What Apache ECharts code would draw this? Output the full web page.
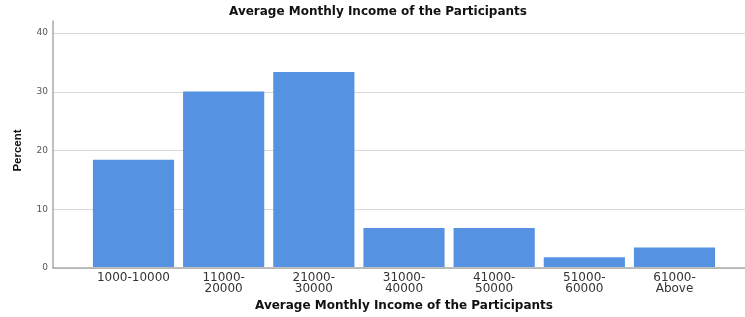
<!DOCTYPE html>
<html>
<head>
<meta charset="utf-8">
<script src="https://cdn.jsdelivr.net/npm/echarts@6/dist/echarts.min.js"></script>
<style>html,body{margin:0;padding:0;background:#fff;}#c{width:745px;height:317px;}</style>
</head>
<body>
<div id="c"></div>
<script>
var categories = ['1000-10000', '11000-\n20000', '21000-\n30000', '31000-\n40000', '41000-\n50000', '51000-\n60000', '61000-\nAbove'];
var percents = [18.33, 30.0, 33.33, 6.67, 6.67, 1.67, 3.33];
var yTicks = [0, 10, 20, 30, 40];
var titleText = 'Average Monthly Income of the Participants';
var xTitle = 'Average Monthly Income of the Participants';
var yTitle = 'Percent';

var chart = echarts.init(document.getElementById('c'), null, {renderer: 'canvas'});
var yMax = yTicks[yTicks.length - 1];
var yStep = yTicks[1] - yTicks[0];
chart.setOption({
  animation: false,
  backgroundColor: '#ffffff',
  title: {
    text: titleText, left: 373, top: 1, textAlign: 'center',
    textStyle: {fontFamily: 'DejaVu Sans', fontWeight: 'bold', fontSize: 12, color: '#111'}
  },
  grid: [
    {left: 53, right: 0, top: 33, bottom: 49},
    {left: 88.4, right: 25.4, top: 33, bottom: 49},
    {left: 53, width: 1, top: 21, bottom: 49}
  ],
  xAxis: [
    {gridIndex: 0, type: 'value', min: 0, max: 1,
     axisLine: {show: true, lineStyle: {color: '#aaaaaa', width: 1.5}},
     axisTick: {show: false}, axisLabel: {show: false}, splitLine: {show: false}},
    {gridIndex: 1, type: 'category', data: categories,
     axisLine: {show: false}, axisTick: {show: false},
     axisLabel: {margin: 5, fontFamily: 'DejaVu Sans', fontSize: 12, lineHeight: 11, color: '#333', interval: 0},
     name: xTitle, nameLocation: 'middle', nameGap: 33,
     nameTextStyle: {fontFamily: 'DejaVu Sans', fontWeight: 'bold', fontSize: 12, color: '#111'}},
    {gridIndex: 2, type: 'value', show: false, min: 0, max: 1}
  ],
  yAxis: [
    {gridIndex: 0, type: 'value', min: 0, max: yMax, interval: yStep,
     axisLine: {show: false}, axisTick: {show: false},
     axisLabel: {margin: 5, fontFamily: 'DejaVu Sans', fontSize: 9, color: '#555'},
     splitLine: {show: true, lineStyle: {color: '#d8d8d8', width: 1.2}},
     name: yTitle, nameLocation: 'middle', nameGap: 29, nameRotate: 90,
     nameTextStyle: {fontFamily: 'Liberation Sans', fontWeight: 'bold', fontSize: 11.5, color: '#111'}},
    {gridIndex: 1, type: 'value', min: 0, max: yMax, show: false},
    {gridIndex: 2, type: 'value', min: 0, max: 1,
     axisLine: {show: true, lineStyle: {color: '#aaaaaa', width: 1.5}},
     axisTick: {show: false}, axisLabel: {show: false}, splitLine: {show: false}}
  ],
  series: [{
    type: 'bar', xAxisIndex: 1, yAxisIndex: 1,
    data: percents, barCategoryGap: '10%',
    itemStyle: {color: '#5592e1'}
  }]
});
</script>
</body>
</html>
